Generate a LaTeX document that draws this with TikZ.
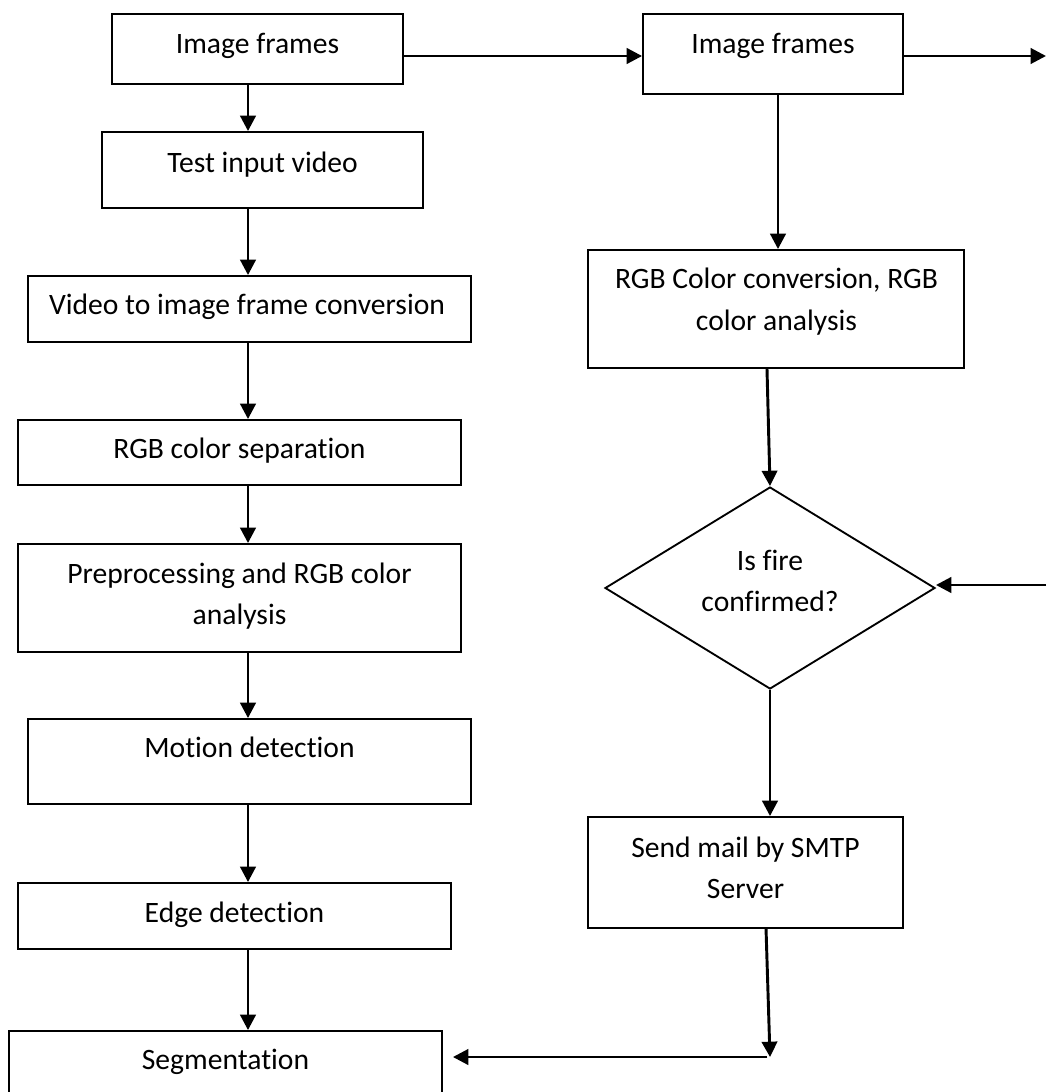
\documentclass[tikz,border=0pt]{standalone}
\usepackage{fontspec}
\setmainfont{Carlito}[RawFeature={-liga;-clig}]
\usetikzlibrary{arrows.meta,fit,shapes.geometric}
\begin{document}
\begin{tikzpicture}[x=0.75pt,y=-0.75pt,
  box/.style={draw, line width=1.4pt, inner sep=0pt, rectangle},
  lbl/.style={anchor=base, inner sep=0pt, font=\fontsize{22.2}{30}\selectfont},
  arr/.style={line width=2.2pt, -{Triangle[length=11.5pt,width=11.5pt]}}]
\useasboundingbox (0,0) rectangle (1046,1092);
\clip (0,0) rectangle (1046,1092);

% reference coordinates
\coordinate (spine) at (248,0);
\coordinate (rspine) at (778,0);
\coordinate (toprow) at (0,56);
\coordinate (exit) at (1046,56);
\coordinate (entry) at (1046,585);
\coordinate (corner) at (770,1057);

% left column boxes
\node[box, fit={(112,14) (403,84)}] (imgL) {};
\node[lbl] (timgL) at (257.5,53) {Image frames};
\node[box, fit={(102,132) (423,208)}] (test) {};
\node[lbl] (ttest) at (262.5,172) {Test input video};
\node[box, fit={(28,276) (471,342)}] (video) {};
\node[lbl] (tvideo) at (247,314) {Video to image frame conversion};
\node[box, fit={(18,420) (461,485)}] (sep) {};
\node[lbl] (tsep) at (239.5,458) {RGB color separation};
\node[box, fit={(18,544) (461,652)}] (pre) {};
\node[lbl] (tpre1) at (239.5,583) {Preprocessing and RGB color};
\node[lbl] (tpre2) at (239.5,624) {analysis};
\node[box, fit={(28,719) (471,804)}] (motion) {};
\node[lbl] (tmotion) at (249.5,757) {Motion detection};
\node[box, fit={(18,883) (451,949)}] (edge) {};
\node[lbl] (tedge) at (234.5,922) {Edge detection};
\node[box, fit={(9,1031) (442,1110)}] (seg) {};
\node[lbl] (tseg) at (225.5,1069) {Segmentation};

% right column
\node[box, fit={(643,14) (903,94)}] (imgR) {};
\node[lbl] (timgR) at (773,53) {Image frames};
\node[box, fit={(588,250) (964,368)}] (conv) {};
\node[lbl] (tconv1) at (776.5,288) {RGB Color conversion, RGB};
\node[lbl] (tconv2) at (776.5,330) {color analysis};
\node[draw, line width=1.4pt, diamond, inner sep=0pt,
      minimum width=247.5pt, minimum height=151.5pt] (dia) at (770,588) {};
\node[lbl] (tdia1) at (770,570) {Is fire};
\node[lbl] (tdia2) at (770,611) {confirmed?};
\node[box, fit={(588,817) (903,928)}] (mail) {};
\node[lbl] (tmail1) at (745.5,857) {Send mail by SMTP};
\node[lbl] (tmail2) at (745.5,898) {Server};

% left spine arrows
\draw[arr] (imgL.south -| spine) -- (test.north -| spine);
\draw[arr] (test.south -| spine) -- (video.north -| spine);
\draw[arr] (video.south -| spine) -- (sep.north -| spine);
\draw[arr] (sep.south -| spine) -- (pre.north -| spine);
\draw[arr] (pre.south -| spine) -- (motion.north -| spine);
\draw[arr] (motion.south -| spine) -- (edge.north -| spine);
\draw[arr] (edge.south -| spine) -- (seg.north -| spine);

% top row
\draw[arr] (imgL.east |- toprow) -- (imgR.west |- toprow);
\draw[arr] (imgR.east |- toprow) -- (exit);

% right column arrows
\draw[arr] (imgR.south -| rspine) -- (conv.north -| rspine);
\draw[arr] ([xshift=-6.75pt]conv.south) -- (dia.north);
\draw[arr] (entry) -- (dia.east |- entry);
\draw[arr] (dia.south) -- (mail.north -| dia.south);
\draw[arr] ([xshift=15.4pt]mail.south) -- (corner);
\draw[arr, shorten >=7.5pt] ([xshift=-2pt]corner) -- (seg.east |- corner);
\end{tikzpicture}
\end{document}
